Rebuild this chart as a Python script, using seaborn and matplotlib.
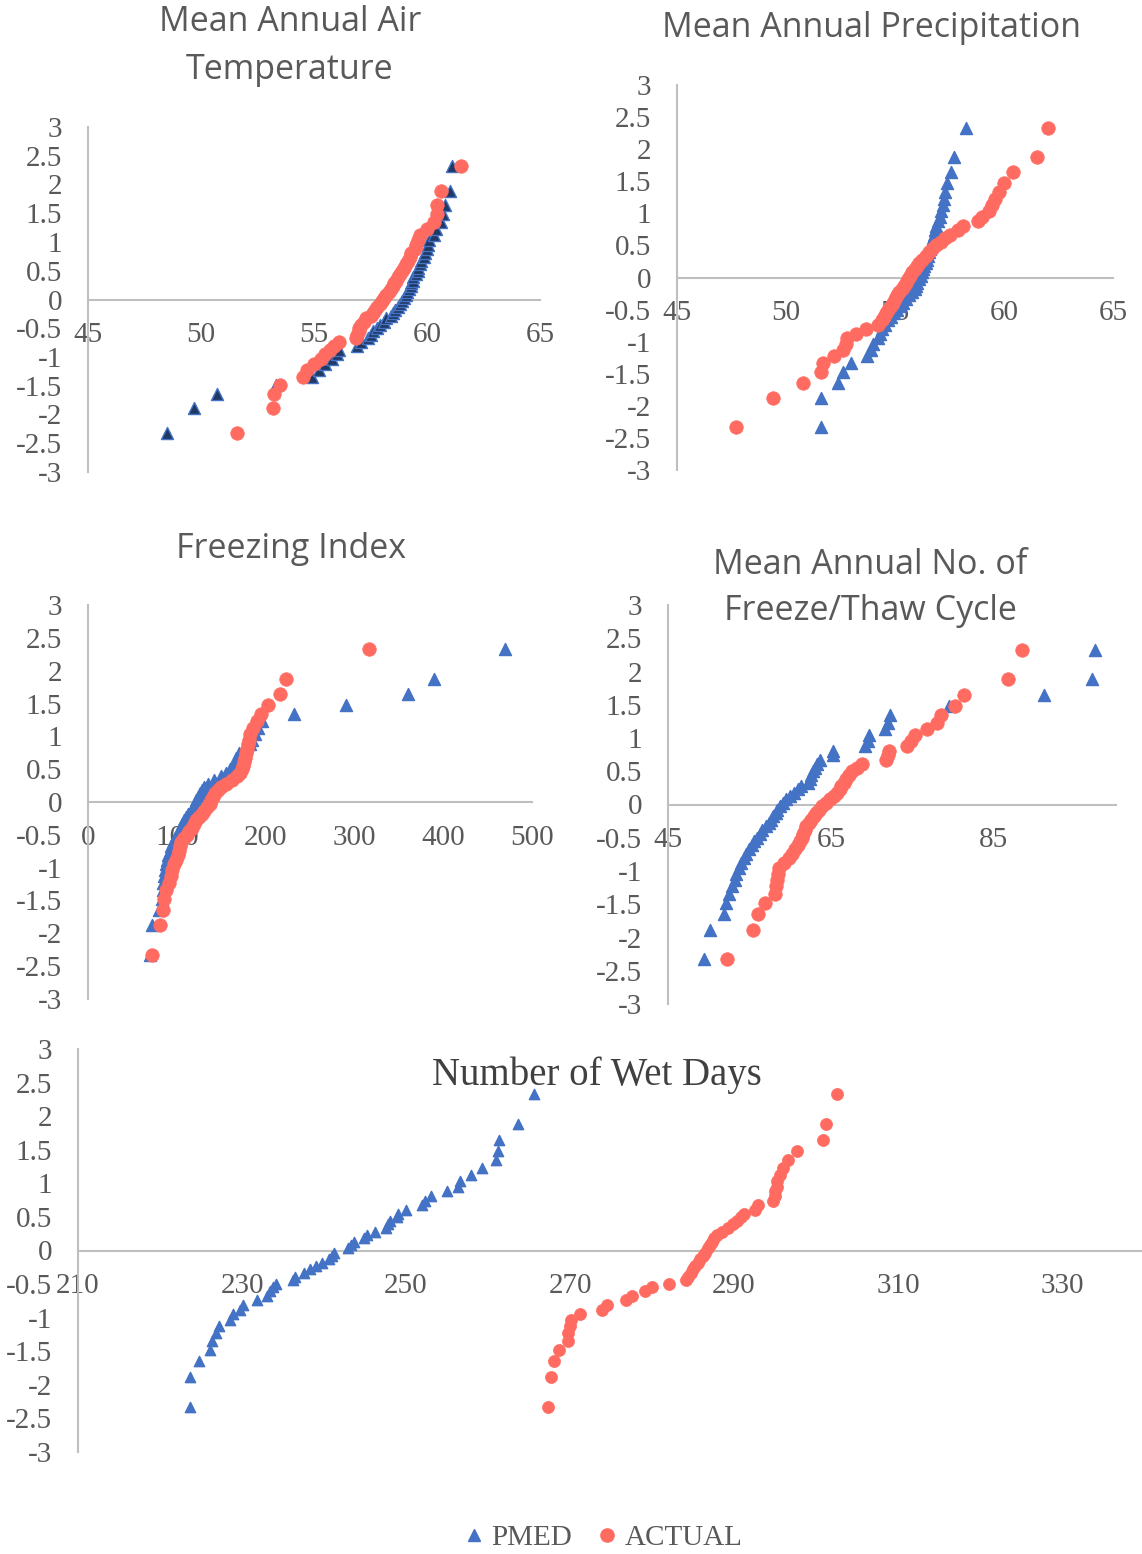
import numpy as np
import pandas as pd
import matplotlib
matplotlib.use("Agg")
import matplotlib.pyplot as plt
from matplotlib.lines import Line2D
from matplotlib.ticker import FuncFormatter
import seaborn as sns

# ---------------- data ----------------
# normal scores (plotting positions) shared by every panel
Z = [-2.33, -1.88, -1.64, -1.48, -1.34, -1.23, -1.13, -1.04, -0.95, -0.88,
     -0.81, -0.74, -0.67, -0.61, -0.55, -0.50, -0.44, -0.39, -0.33, -0.28,
     -0.23, -0.18, -0.13, -0.08, -0.03, 0.03, 0.08, 0.13, 0.18, 0.23,
     0.28, 0.33, 0.39, 0.44, 0.50, 0.55, 0.61, 0.67, 0.74, 0.81,
     0.88, 0.95, 1.04, 1.13, 1.23, 1.34, 1.48, 1.64, 1.88, 2.33]

maat_pmed = [48.5, 49.7, 50.7, 53.3, 54.9, 55.2, 55.5, 55.8, 56.0, 56.1,
             56.9, 57.1, 57.4, 57.5, 57.6, 57.8, 57.9, 58.1, 58.2, 58.4,
             58.5, 58.6, 58.7, 58.8, 58.9, 59.0, 59.05, 59.1, 59.2, 59.3,
             59.3, 59.4, 59.4, 59.5, 59.6, 59.6, 59.7, 59.75, 59.85, 59.9,
             60.0, 60.05, 60.1, 60.3, 60.4, 60.6, 60.7, 60.8, 61.0, 61.1]
maat_actual = [51.6, 53.2, 53.25, 53.5, 54.5, 54.7, 55.0, 55.3, 55.5, 55.7,
               55.9, 56.1, 56.85, 56.9, 57.0, 57.0, 57.1, 57.2, 57.3, 57.5,
               57.6, 57.7, 57.8, 57.9, 58.0, 58.1, 58.2, 58.3, 58.4, 58.5,
               58.55, 58.65, 58.7, 58.8, 58.9, 59.0, 59.05, 59.15, 59.25, 59.3,
               59.45, 59.5, 59.6, 59.7, 60.0, 60.3, 60.45, 60.45, 60.6, 61.5]

map_pmed = [51.6, 51.6, 52.4, 52.6, 53.0, 53.7, 53.9, 54.0, 54.2, 54.3,
            54.4, 54.55, 54.7, 54.8, 54.95, 55.1, 55.25, 55.35, 55.5, 55.65,
            55.8, 55.9, 55.95, 56.0, 56.1, 56.2, 56.25, 56.3, 56.35, 56.4,
            56.45, 56.5, 56.55, 56.6, 56.65, 56.7, 56.75, 56.8, 56.85, 56.9,
            56.95, 57.05, 57.1, 57.2, 57.25, 57.3, 57.4, 57.55, 57.7, 58.25]
map_actual = [47.7, 49.4, 50.8, 51.6, 51.7, 52.2, 52.6, 52.75, 52.8, 53.2,
              53.65, 54.2, 54.4, 54.5, 54.6, 54.7, 54.8, 54.9, 55.0, 55.1,
              55.2, 55.3, 55.4, 55.5, 55.6, 55.7, 55.8, 55.9, 56.0, 56.1,
              56.25, 56.4, 56.55, 56.7, 56.9, 57.1, 57.3, 57.5, 57.9, 58.1,
              58.8, 59.0, 59.3, 59.45, 59.6, 59.75, 60.0, 60.4, 61.5, 62.0]

fi_pmed = [70, 72, 80, 83, 84, 85, 86, 87, 88, 89,
           90, 92, 94, 96, 98, 100, 102, 104, 106, 108,
           110, 113, 116, 118, 120, 122, 124, 126, 128, 131,
           135, 142, 150, 155, 160, 163, 165, 167, 170, 178,
           182, 185, 188, 192, 196, 232, 290, 360, 390, 470]
fi_actual = [72, 81, 85, 85.5, 88, 91, 93, 95, 97, 99,
             101, 102, 104, 105, 108, 111, 114, 117, 119, 122,
             125, 128, 131, 134, 137, 139, 141, 143, 146, 150,
             155, 162, 168, 171, 173, 174, 176, 177, 178, 179,
             180, 181, 182, 186, 190, 195, 203, 216, 223, 316]

ft_pmed = [49.4, 50.1, 51.9, 52.1, 52.5, 52.9, 53.2, 53.4, 53.7, 54.0,
           54.3, 54.6, 55.0, 55.3, 55.6, 55.9, 56.3, 56.6, 57.0, 57.4,
           57.7, 57.9, 58.2, 58.4, 58.7, 59.1, 59.5, 60.0, 60.5, 60.9,
           61.3, 62.2, 62.4, 62.6, 62.8, 63.0, 63.3, 63.6, 65.2, 65.3,
           69.2, 69.5, 69.7, 71.6, 72.0, 72.2, 79.5, 91.2, 97.0, 97.4]
ft_actual = [52.3, 55.4, 56.0, 56.9, 58.1, 58.3, 58.4, 58.5, 58.6, 59.3,
             59.8, 60.2, 60.6, 61.0, 61.2, 61.4, 61.6, 61.8, 62.0, 62.3,
             62.6, 62.9, 63.2, 63.5, 63.9, 64.4, 64.9, 65.4, 65.8, 66.1,
             66.3, 66.6, 66.9, 67.2, 67.6, 68.2, 68.8, 71.8, 72.0, 72.1,
             74.4, 74.8, 75.3, 76.8, 78.0, 78.5, 80.2, 81.4, 86.8, 88.4]

wd_pmed = [223.7, 223.7, 224.8, 226.1, 226.4, 226.8, 227.2, 228.5, 228.9, 229.7,
           230.1, 231.8, 233.0, 233.4, 233.8, 234.1, 236.2, 236.5, 237.5, 238.3,
           239.0, 239.8, 240.6, 241.0, 241.2, 242.9, 243.3, 243.6, 244.9, 245.3,
           246.2, 247.5, 247.8, 248.0, 248.9, 249.0, 250.0, 251.9, 252.3, 253.0,
           255.0, 256.3, 256.6, 257.9, 259.3, 261.0, 261.2, 261.3, 263.7, 265.6]
wd_actual = [267.3, 267.7, 268.0, 268.7, 269.8, 269.8, 270.0, 270.1, 271.2, 273.9,
             274.5, 276.8, 277.6, 279.2, 280.0, 282.1, 284.2, 284.4, 284.7, 285.0,
             285.3, 285.6, 285.9, 286.2, 286.5, 286.8, 287.1, 287.3, 287.6, 287.9,
             288.5, 289.3, 289.9, 290.4, 290.9, 291.2, 292.6, 292.9, 294.8, 295.0,
             295.0, 295.2, 295.3, 295.6, 296.0, 296.6, 297.7, 300.9, 301.2, 302.5]

series_names = ["PMED", "ACTUAL"]

# ---------------- style ----------------
sns.set_theme(style="white")
plt.rcParams['font.family'] = ['Liberation Serif', 'DejaVu Serif']

W, H = 1142, 1554
BLUE = "#4472C4"
NAVY = "#1F3864"
RED = "#FF6B61"
AXC = "#BFBFBF"
TXT = "#595959"

fig = plt.figure(figsize=(W / 100, H / 100), dpi=100)


def box(x0, y0, x1, y1):
    return [x0 / W, 1 - y1 / H, (x1 - x0) / W, (y1 - y0) / H]


yfmt = FuncFormatter(lambda v, p: f"{v:g}")


def panel(rect, pmed, actual, xlim, xticks, tick_fs, tri_face, s_tri, s_dot):
    ax = fig.add_axes(rect)
    df = pd.DataFrame({
        "x": list(pmed) + list(actual),
        "z": Z + Z,
        "series": [series_names[0]] * len(pmed) + [series_names[1]] * len(actual),
    })
    d1 = df[df.series == "PMED"]
    d2 = df[df.series == "ACTUAL"]
    sns.scatterplot(data=d1, x="x", y="z", marker="^", s=s_tri, color=tri_face,
                    edgecolor=BLUE, linewidth=1.0, ax=ax, legend=False, zorder=3,
                    clip_on=False)
    sns.scatterplot(data=d2, x="x", y="z", marker="o", s=s_dot, color=RED,
                    edgecolor=RED, linewidth=0.5, ax=ax, legend=False, zorder=4,
                    clip_on=False)
    ax.set_xlim(*xlim)
    ax.set_ylim(-3, 3)
    ax.set_xticks(xticks)
    ax.set_yticks(np.arange(-3, 3.01, 0.5))
    ax.yaxis.set_major_formatter(yfmt)
    ax.set_xlabel("")
    ax.set_ylabel("")
    for sp in ["top", "right"]:
        ax.spines[sp].set_visible(False)
    ax.spines["bottom"].set_position(("data", 0))
    for sp in ["left", "bottom"]:
        ax.spines[sp].set_color(AXC)
        ax.spines[sp].set_linewidth(1.5)
    ax.tick_params(axis="both", direction="inout", length=11, width=1.3,
                   color=AXC, labelcolor=TXT, labelsize=tick_fs)
    ax.tick_params(axis="y", pad=13)
    ax.tick_params(axis="x", pad=11)
    ax.set_facecolor("none")
    ax.grid(False)
    return ax


panel(box(88, 127, 540, 472), maat_pmed, maat_actual, (45, 65),
      [45, 50, 55, 60, 65], 21, NAVY, 75, 95)
panel(box(677, 85, 1113, 470), map_pmed, map_actual, (45, 65),
      [45, 50, 55, 60, 65], 21, BLUE, 75, 95)
panel(box(88, 605, 532, 999), fi_pmed, fi_actual, (0, 500),
      [0, 100, 200, 300, 400, 500], 21, BLUE, 75, 95)
panel(box(668, 605, 1116, 1004), ft_pmed, ft_actual, (45, 100),
      [45, 65, 85], 21, BLUE, 75, 95)
panel(box(78, 1049, 1144, 1452), wd_pmed, wd_actual, (210, 340),
      [210, 230, 250, 270, 290, 310, 330], 21, BLUE, 55, 75)


def ftext(s, x, y, size, family, color):
    fig.text(x / W, 1 - y / H, s, ha="center", va="center", fontsize=size,
             family=family, color=color)


SANS = ["Open Sans", "DejaVu Sans"]
TFS = 24.5
ftext("Mean Annual Air", 290, 22, TFS, SANS, TXT)
ftext("Temperature", 290, 70, TFS, SANS, TXT)
ftext("Mean Annual Precipitation", 872, 28, TFS, SANS, TXT)
ftext("Freezing Index", 291, 549, TFS, SANS, TXT)
ftext("Mean Annual No. of", 870, 565, TFS, SANS, TXT)
ftext("Freeze/Thaw Cycle", 870, 611, TFS, SANS, TXT)
ftext("Number of Wet Days", 597, 1075, 28, ["Liberation Serif"], "#404040")

handles = [
    Line2D([], [], linestyle="none", marker="^", markersize=8,
           markerfacecolor=BLUE, markeredgecolor=BLUE, label="PMED"),
    Line2D([], [], linestyle="none", marker="o", markersize=9.5,
           markerfacecolor=RED, markeredgecolor=RED, label="ACTUAL"),
]
leg = fig.legend(handles=handles, loc="center", bbox_to_anchor=(604 / W, 1 - 1538 / H),
                 ncol=2, frameon=False, fontsize=21, handlelength=0.6,
                 handletextpad=0.3, columnspacing=0.9)
for t in leg.get_texts():
    t.set_color(TXT)

fig.savefig("out.png", dpi=100)
